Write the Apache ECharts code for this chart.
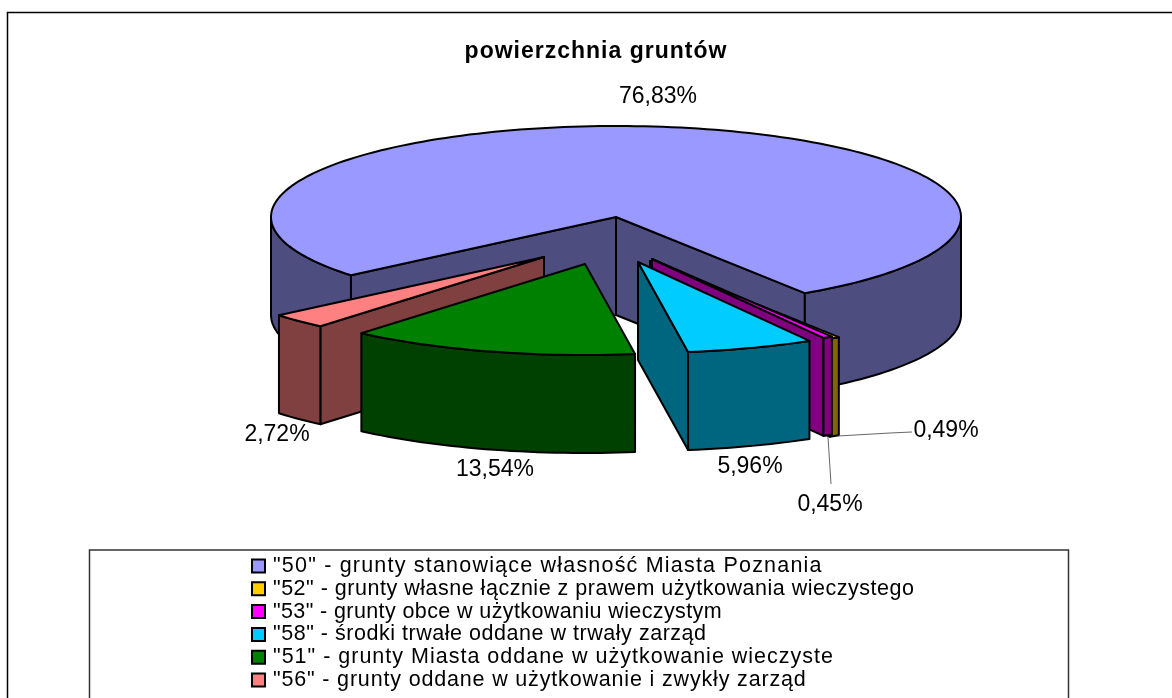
<!DOCTYPE html>
<html><head><meta charset="utf-8">
<style>html,body{margin:0;padding:0;background:#fff}#c{width:1172px;height:698px}</style>
<script src="https://cdn.jsdelivr.net/npm/echarts@6/dist/echarts.min.js"></script>
</head><body><div id="c"></div>
<script>
// data
const categories = [
  '"50" - grunty stanowiące własność Miasta Poznania',
  '"52" - grunty własne łącznie z prawem użytkowania wieczystego',
  '"53" - grunty obce w użytkowaniu wieczystym',
  '"58" - środki trwałe oddane w trwały zarząd',
  '"51" - grunty Miasta oddane w użytkowanie wieczyste',
  '"56" - grunty oddane w użytkowanie i zwykły zarząd'
];
const shares = [76.83, 0.49, 0.45, 5.96, 13.54, 2.72];
const titleText = 'powierzchnia gruntów';
const topColors = ['#9999FF', '#FFCC00', '#FF00FF', '#00CCFF', '#008000', '#FF8080'];
const sideColors = ['#4D4D80', '#806600', '#800080', '#006680', '#004000', '#804040'];

// layout of the projected pie
const CX = 616, CY = 217, RX = 345, RY = 91, DEPTH = 98, FIRST_ANGLE = 230.2;
const shifts = [[0,0],[34,44],[36,42],[22,45],[-31,47],[-72,40]];
const labelAnchors = [[658,97],[946,431],[830,505],[750,467],[495,470],[277,435]];
const drawOrder = [0,1,2,3,5,4];
const total = shares.reduce((a,b)=>a+b,0);

// the reference's text is set wider than the font's natural advance
const legendTracking = [1.2, 0.51, 0.39, 0.53, 1.0, 0.83];
const nativeFill = CanvasRenderingContext2D.prototype.fillText;
CanvasRenderingContext2D.prototype.fillText = function(t){
  const row = categories.indexOf(t);
  this.letterSpacing = row >= 0 ? legendTracking[row] + 'px' : /bold/.test(this.font) ? '1px' : '0px';
  return nativeFill.apply(this, arguments);
};

function sliceAngles(i){
  let a = FIRST_ANGLE;
  for(let k=0;k<i;k++) a += shares[k]/total*360;
  return [a, a + shares[i]/total*360];
}
function pt(deg,dx,dy,drop){
  const r = deg*Math.PI/180;
  return [CX+dx+RX*Math.sin(r), CY+dy-RY*Math.cos(r)+(drop||0)];
}
function arc(a,b,dx,dy,drop){
  const n = Math.max(2,Math.ceil((b-a)/1.5)), out=[];
  for(let i=0;i<=n;i++) out.push(pt(a+(b-a)*i/n,dx,dy,drop));
  return out;
}
const LW = 2;
function poly(points,fill,z2){
  return {type:'polygon',shape:{points},silent:true,z2:z2,
    style:{fill,stroke:'#000',lineWidth:LW,lineJoin:'round'}};
}
function makeRender(i){
  return function(params,api){
    const [a0,a1] = sliceAngles(i);
    const [dx,dy] = shifts[i];
    const apex=[CX+dx,CY+dy], apexB=[CX+dx,CY+dy+DEPTH];
    const side = sideColors[i], top = api.visual('color');
    const kids=[]; let z=1;
    const sin = d=>Math.sin(d*Math.PI/180);
    const faces=[];
    if(sin(a0)<0){const p=pt(a0,dx,dy),q=pt(a0,dx,dy,DEPTH);faces.push([apex,p,q,apexB]);}
    if(sin(a1)>0){const p=pt(a1,dx,dy),q=pt(a1,dx,dy,DEPTH);faces.push([apex,p,q,apexB]);}
    faces.forEach(f=>kids.push(poly(f,side,z++)));
    [[90,270],[450,630]].forEach(([s,e])=>{
      const b0=Math.max(a0,s), b1=Math.min(a1,e);
      if(b1>b0){
        const upper=arc(b0,b1,dx,dy), lower=arc(b0,b1,dx,dy,DEPTH).reverse();
        kids.push(poly(upper.concat(lower),side,z++));
      }
    });
    kids.push(poly([apex].concat(arc(a0,a1,dx,dy)),top,z++));
    const la = labelAnchors[i];
    kids.push({type:'text',silent:true,z2:z++,x:la[0],y:la[1],
      style:{text:shares[i].toFixed(2).replace('.',',')+'%',
        font:'23px "Liberation Sans", Arial, sans-serif',fill:'#000',
        align:'center',verticalAlign:'middle'}});
    return {type:'group',children:kids};
  };
}
const series = categories.map((name,i)=>({
  type:'custom',name,coordinateSystem:'none',
  z:2+drawOrder.indexOf(i),silent:true,animation:false,
  itemStyle:{color:topColors[i]},
  data:[[shares[i]]],
  renderItem:makeRender(i)
}));

const chart = echarts.init(document.getElementById('c'),null,{renderer:'canvas'});
chart.setOption({
  animation:false,
  backgroundColor:'#fff',
  title:{text:titleText,left:591,top:35,textAlign:'center',
    textStyle:{fontFamily:'"Liberation Sans", Arial, sans-serif',fontWeight:'bold',fontSize:23,color:'#000'}},
  legend:{data:categories,orient:'vertical',left:251,top:555,padding:0,itemGap:0.8,
    itemWidth:13,itemHeight:13,icon:'rect',selectedMode:false,
    itemStyle:{borderColor:'#000',borderWidth:2},
    textStyle:{fontFamily:'"Liberation Sans", Arial, sans-serif',fontSize:21.5,color:'#000',lineHeight:20,padding:[0,0,0,3]}},
  graphic:[
    {type:'rect',silent:true,z:0,shape:{x:7.5,y:12.5,width:1200,height:720},style:{fill:'#fff',stroke:'#000',lineWidth:1.5}},
    {type:'rect',silent:true,z:1,shape:{x:89.5,y:550,width:979,height:170},style:{fill:'#fff',stroke:'#333',lineWidth:1.5}},
    {type:'polyline',silent:true,z:20,shape:{points:[[838,436],[890,433],[912,432]]},style:{stroke:'#666',lineWidth:1,fill:null}},
    {type:'polyline',silent:true,z:20,shape:{points:[[828,437],[831,484]]},style:{stroke:'#666',lineWidth:1,fill:null}}
  ],
  series
});
</script></body></html>
